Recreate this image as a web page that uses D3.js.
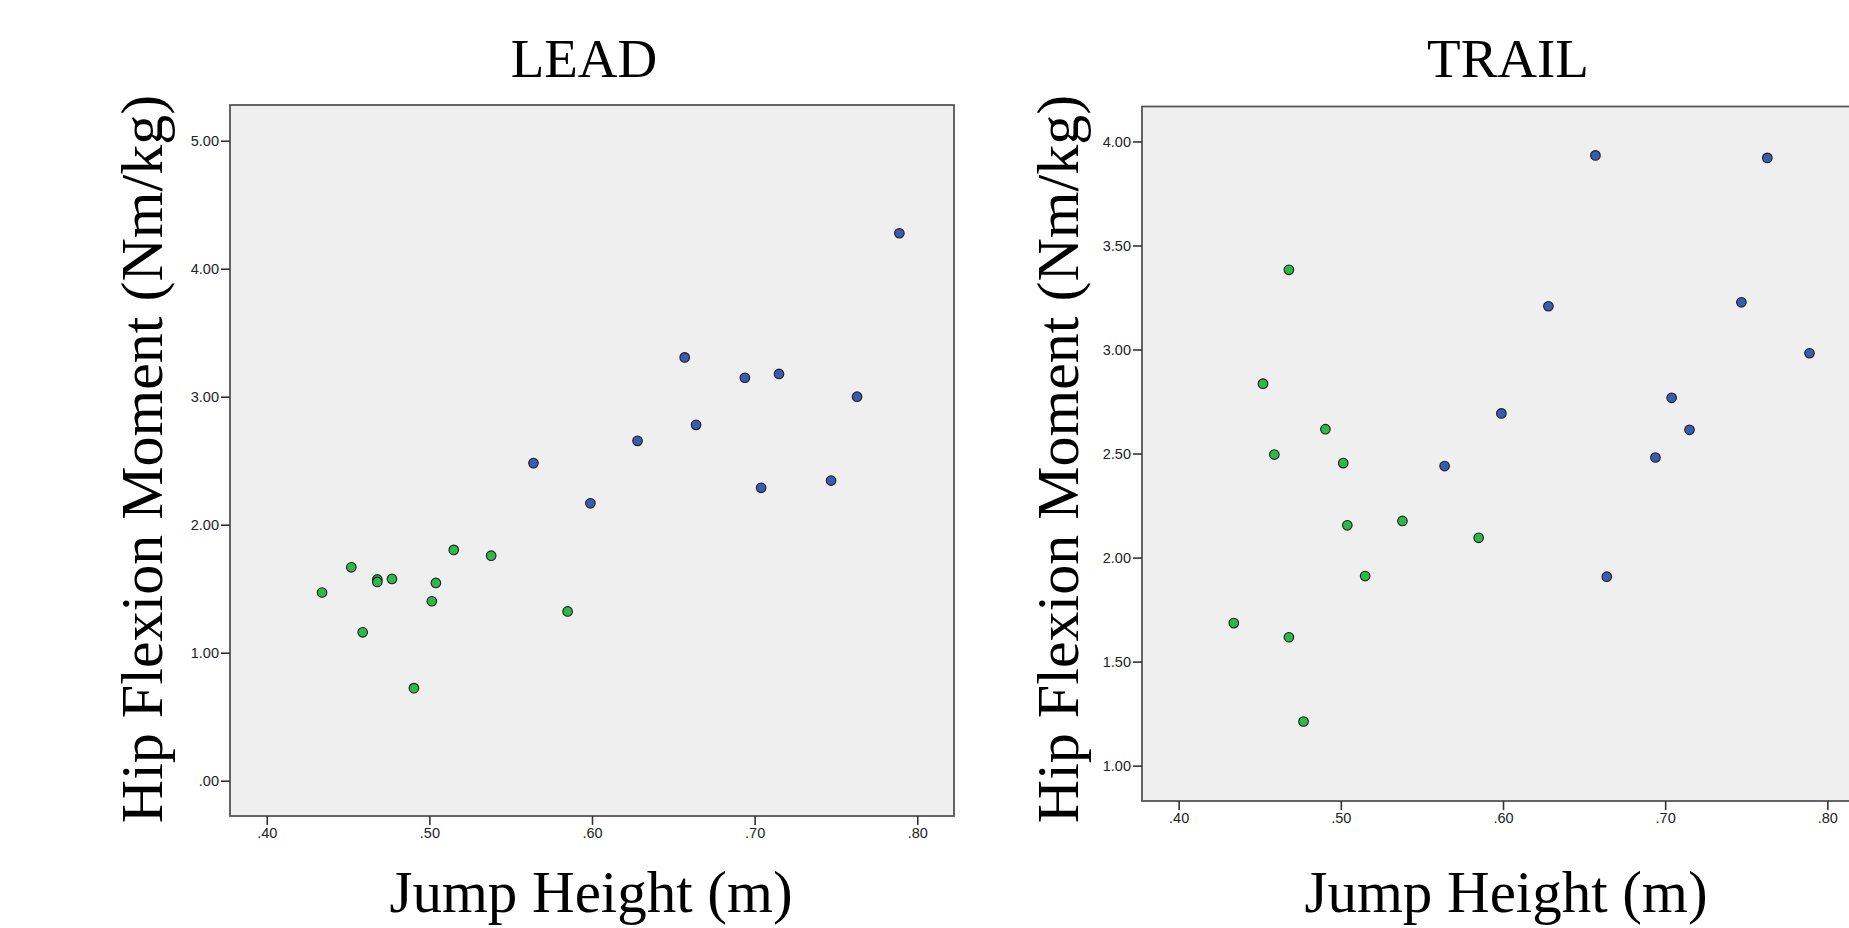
<!DOCTYPE html>
<html>
<head>
<meta charset="utf-8">
<script src="https://cdn.jsdelivr.net/npm/d3@7"></script>
<style>
  html, body { margin: 0; padding: 0; background: #ffffff; }
  svg { display: block; }
</style>
</head>
<body>
<svg id="chart" width="1849" height="928"></svg>
<script>
// Jump height (m) per athlete; the first twelve form the lower-jump group.
const jumpHeight = [0.434, 0.452, 0.459, 0.468, 0.468, 0.477, 0.4905, 0.5015, 0.504, 0.515, 0.538, 0.585,
                    0.564, 0.599, 0.628, 0.657, 0.664, 0.694, 0.704, 0.715, 0.747, 0.763, 0.789];
const group = ["low", "low", "low", "low", "low", "low", "low", "low", "low", "low", "low", "low",
               "high", "high", "high", "high", "high", "high", "high", "high", "high", "high", "high"];

// Peak hip flexion moment (Nm/kg), lead limb and trail limb.
const leadMoment = [1.470, 1.667, 1.159, 1.572, 1.553, 1.576, 0.723, 1.402, 1.545, 1.803, 1.758, 1.322,
                    2.481, 2.167, 2.655, 3.307, 2.780, 3.148, 2.288, 3.178, 2.345, 3.000, 4.277];
const trailMoment = [1.685, 2.836, 2.495, 3.383, 1.617, 1.212, 2.617, 2.454, 2.155, 1.911, 2.176, 2.095,
                     2.440, 2.693, 3.208, 3.933, 1.908, 2.481, 2.768, 2.614, 3.227, 3.921, 2.982];

// Axis ranges and tick labels
const xDomain = [0.3774, 0.8226];
const xTicks = [0.40, 0.50, 0.60, 0.70, 0.80];
const leadDomain = [-0.276, 5.279];
const leadTicks = [0, 1, 2, 3, 4, 5];
const trailDomain = [0.830, 4.168];
const trailTicks = [1.0, 1.5, 2.0, 2.5, 3.0, 3.5, 4.0];

const panelTitles = ["LEAD", "TRAIL"];
const xLabel = "Jump Height (m)";
const yLabel = "Hip Flexion Moment (Nm/kg)";

const groupColor = { low: "#2db84a", high: "#3b5bb0" };

// ".40", "5.00" style: two decimals without a leading zero
const fmt = v => d3.format(".2f")(v).replace(/^0\./, ".");

const svg = d3.select("#chart");

const panels = [
  { title: panelTitles[0], values: leadMoment, yDomain: leadDomain, yTicks: leadTicks,
    frame: { x0: 230, x1: 954, y0: 105, y1: 816 }, titleX: 584, xLabelX: 591, yLabelX: 162 },
  { title: panelTitles[1], values: trailMoment, yDomain: trailDomain, yTicks: trailTicks,
    frame: { x0: 1142, x1: 1864, y0: 106.5, y1: 801 }, titleX: 1508, xLabelX: 1506, yLabelX: 1078 }
];

panels.forEach(p => {
  const f = p.frame;
  const x = d3.scaleLinear().domain(xDomain).range([f.x0, f.x1]);
  const y = d3.scaleLinear().domain(p.yDomain).range([f.y1, f.y0]);
  const g = svg.append("g");

  // plot area
  g.append("rect")
    .attr("x", f.x0).attr("y", f.y0)
    .attr("width", f.x1 - f.x0).attr("height", f.y1 - f.y0)
    .attr("fill", "#efefef")
    .attr("stroke", "#555555")
    .attr("stroke-width", 1.8);

  // axes
  const yAxis = g.append("g")
    .attr("transform", `translate(${f.x0},0)`)
    .call(d3.axisLeft(y).tickValues(p.yTicks).tickFormat(fmt).tickSize(9).tickPadding(2));
  const xAxis = g.append("g")
    .attr("transform", `translate(0,${f.y1})`)
    .call(d3.axisBottom(x).tickValues(xTicks).tickFormat(fmt).tickSize(9).tickPadding(3));

  [yAxis, xAxis].forEach(ax => {
    ax.select(".domain").remove();
    ax.selectAll(".tick line").attr("stroke", "#333333").attr("stroke-width", 1.6);
    ax.selectAll(".tick text")
      .attr("fill", "#222222")
      .style("font-family", "'Liberation Sans', Arial, sans-serif")
      .style("font-size", "14.5px");
  });

  // points
  g.append("g").selectAll("circle")
    .data(jumpHeight.map((h, i) => ({ h, m: p.values[i], grp: group[i] })))
    .join("circle")
    .attr("cx", d => x(d.h))
    .attr("cy", d => y(d.m))
    .attr("r", 4.8)
    .attr("fill", d => groupColor[d.grp])
    .attr("stroke", "#1e1e1e")
    .attr("stroke-width", 1.1);

  // titles and axis labels
  const serif = "'Liberation Serif', 'Times New Roman', serif";
  svg.append("text")
    .attr("x", p.titleX).attr("y", 77)
    .attr("text-anchor", "middle")
    .style("font-family", serif).style("font-size", "55px")
    .attr("fill", "#000")
    .text(p.title);

  svg.append("text")
    .attr("x", p.xLabelX).attr("y", 912)
    .attr("text-anchor", "middle")
    .style("font-family", serif).style("font-size", "59px")
    .attr("fill", "#000")
    .text(xLabel);

  svg.append("text")
    .attr("transform", `translate(${p.yLabelX},459) rotate(-90)`)
    .attr("text-anchor", "middle")
    .style("font-family", serif).style("font-size", "60px")
    .attr("fill", "#000")
    .text(yLabel);
});
</script>
</body>
</html>
